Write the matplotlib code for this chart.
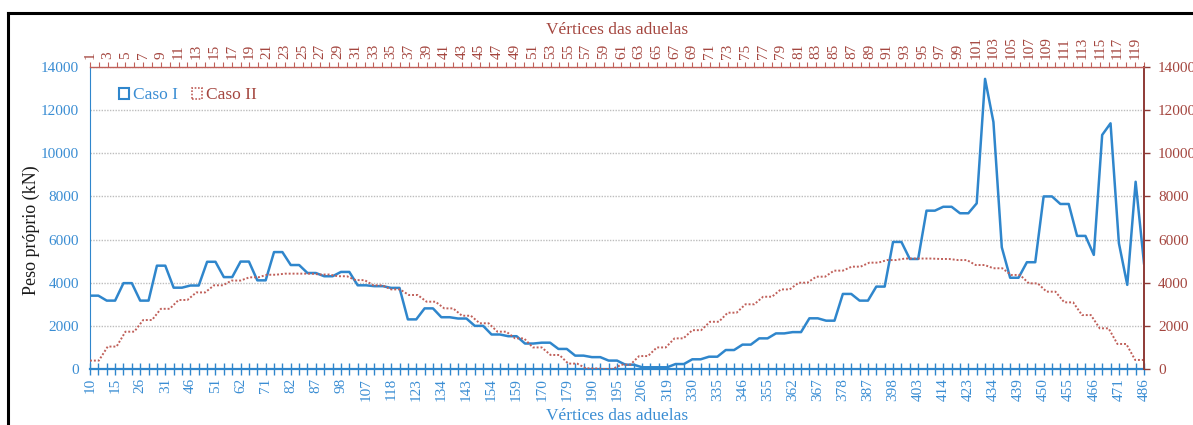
import matplotlib
matplotlib.use("Agg")
import matplotlib.pyplot as plt
import matplotlib.patches as mpatches
from matplotlib.lines import Line2D
from matplotlib.ticker import FixedLocator
import numpy as np

# Caso I: self weight per segment vertex (kN), 127 points on the lower axis
caso1_values = [
    3400, 3400, 3170, 3170, 3980, 3980, 3170, 3170, 4790, 4790,
    3770, 3770, 3870, 3870, 4970, 4970, 4260, 4260, 4980, 4980,
    4110, 4110, 5420, 5420, 4820, 4820, 4450, 4450, 4300, 4300,
    4500, 4500, 3880, 3880, 3840, 3840, 3760, 3760, 2300, 2300,
    2810, 2810, 2400, 2400, 2340, 2340, 2000, 2000, 1600, 1600,
    1520, 1520, 1180, 1180, 1220, 1220, 930, 930, 620, 620,
    550, 550, 390, 390, 200, 200, 80, 80, 80, 80,
    230, 230, 450, 450, 570, 570, 880, 880, 1130, 1130,
    1420, 1420, 1650, 1650, 1710, 1710, 2350, 2350, 2240, 2240,
    3480, 3480, 3170, 3170, 3820, 3820, 5890, 5890, 5100, 5100,
    7340, 7340, 7520, 7520, 7220, 7220, 7680, 13450, 11450, 5640,
    4230, 4230, 4950, 4950, 8000, 8000, 7650, 7650, 6170, 6170,
    5290, 10850, 11390, 5830, 3900, 8680, 4900,
]

# Labelled vertices of the lower axis (every third point)
caso1_ticklabels = [
    "10", "15", "26", "31", "46", "51", "62", "71", "82", "87",
    "98", "107", "118", "123", "134", "143", "154", "159", "170", "179",
    "190", "195", "206", "319", "330", "335", "346", "355", "362", "367",
    "378", "387", "398", "403", "414", "423", "434", "439", "450", "455",
    "466", "471", "486",
]

# Caso II: self weight per segment vertex (kN), vertices 1..120 on the upper axis
caso2_values = [
    390, 390, 1040, 1040, 1730, 1730, 2270, 2270, 2790, 2790,
    3200, 3200, 3550, 3550, 3880, 3880, 4100, 4100, 4250, 4250,
    4370, 4370, 4420, 4420, 4420, 4420, 4380, 4380, 4300, 4300,
    4120, 4120, 3880, 3880, 3690, 3690, 3430, 3430, 3120, 3120,
    2810, 2810, 2470, 2470, 2120, 2120, 1730, 1730, 1420, 1420,
    1000, 1000, 650, 650, 250, 250, 30, 30, 0, 0,
    200, 200, 600, 600, 1000, 1000, 1420, 1420, 1800, 1800,
    2190, 2190, 2610, 2610, 3000, 3000, 3350, 3350, 3690, 3690,
    4000, 4000, 4280, 4280, 4560, 4560, 4745, 4745, 4930, 4930,
    5050, 5050, 5120, 5120, 5120, 5120, 5100, 5100, 5050, 5050,
    4820, 4820, 4670, 4670, 4360, 4360, 3970, 3970, 3585, 3585,
    3090, 3090, 2500, 2500, 1885, 1885, 1160, 1160, 420, 420,
]
caso2_vertices = list(range(1, len(caso2_values) + 1))

y_ticks = [0, 2000, 4000, 6000, 8000, 10000, 12000, 14000]

BLUE = "#2F86CC"
BLUE_TXT = "#3A8DD3"
RED = "#C0605A"
RED_DARK = "#8E3A36"
RED_TXT = "#A4463F"

plt.rcParams["font.family"] = ["Liberation Serif", "DejaVu Serif"]

fig = plt.figure(figsize=(11.93, 4.25), dpi=100)
pos = [90 / 1193, 1 - 369 / 425, (1144 - 90) / 1193, (369 - 67) / 425]

ax = fig.add_axes(pos)
ax2 = fig.add_axes(pos, frameon=False)

# ---- Caso I (lower x axis, left y axis)
x1 = np.arange(len(caso1_values))
ax.plot(x1, caso1_values, color=BLUE, lw=1.8, zorder=3)
ax.set_xlim(0, len(caso1_values) - 1)
ax.set_ylim(0, 14000)
ax.set_yticks(y_ticks)
ax.yaxis.grid(True, color="#BDBDBD", linestyle=(0, (1, 1)), lw=1.0)
ax.set_axisbelow(True)

major_pos = x1[::3]
ax.xaxis.set_major_locator(FixedLocator(major_pos))
ax.set_xticklabels(caso1_ticklabels, rotation=90, color=BLUE_TXT, fontsize=11)
ax.xaxis.set_minor_locator(FixedLocator(x1))
ax.tick_params(axis="x", which="both", direction="inout", length=9, width=1.0,
               color=BLUE, pad=2)
ax.tick_params(axis="y", length=0, labelcolor=BLUE_TXT, labelsize=11, pad=8)
ax.set_xlabel("Vértices das aduelas", color=BLUE_TXT, fontsize=12.5, labelpad=5)
ax.set_ylabel("Peso próprio (kN)", color="#1A1A1A", fontsize=13)
ax.yaxis.set_label_coords(-0.047, 0.46)

ax.spines["bottom"].set_color(BLUE)
ax.spines["bottom"].set_linewidth(1.6)
ax.spines["left"].set_color(BLUE)
ax.spines["left"].set_linewidth(0.8)
ax.spines["left"].set_linestyle((0, (1, 1)))
ax.spines["top"].set_visible(False)
ax.spines["right"].set_visible(False)

# ---- Caso II (upper x axis, right y axis)
ax2.plot(caso2_vertices, caso2_values, color=RED, lw=1.4,
         linestyle=(0, (1, 1)), zorder=2)
ax2.set_xlim(caso2_vertices[0], caso2_vertices[-1])
ax2.set_ylim(0, 14000)
ax2.set_yticks(y_ticks)
ax2.xaxis.tick_top()
ax2.xaxis.set_label_position("top")
ax2.yaxis.tick_right()
ax2.xaxis.set_major_locator(FixedLocator(caso2_vertices[::2]))
ax2.set_xticklabels([str(v) for v in caso2_vertices[::2]], rotation=90,
                    color=RED_TXT, fontsize=11)
ax2.xaxis.set_minor_locator(FixedLocator(caso2_vertices))
ax2.tick_params(axis="x", which="both", direction="out", length=3.5, width=0.8,
                color=RED, pad=2)
ax2.tick_params(axis="y", direction="out", length=4, width=1.0, color=RED_DARK,
                labelcolor=RED_TXT, labelsize=11, pad=6)
ax2.set_xlabel("Vértices das aduelas", color=RED_TXT, fontsize=12.5, labelpad=2)
ax2.patch.set_visible(False)
ax2.set_frame_on(True)
for s in ("bottom", "left"):
    ax2.spines[s].set_visible(False)
ax2.spines["top"].set_color(RED)
ax2.spines["top"].set_linewidth(1.0)
ax2.spines["top"].set_linestyle((0, (1, 1)))
ax2.spines["right"].set_color(RED_DARK)
ax2.spines["right"].set_linewidth(1.4)

# ---- legend
handles = [
    mpatches.Rectangle((0, 0), 1, 1, facecolor="none", edgecolor=BLUE, lw=1.5),
    mpatches.Rectangle((0, 0), 1, 1, facecolor="none", edgecolor=RED, lw=1.2,
                       linestyle=(0, (1, 1))),
]
leg = ax2.legend(handles, ["Caso I", "Caso II"], ncol=2, frameon=False,
                 loc="upper left", bbox_to_anchor=(0.013, 0.985),
                 fontsize=12.5, handlelength=0.55, handleheight=0.6,
                 handletextpad=0.25, columnspacing=0.8)
leg.get_texts()[0].set_color(BLUE_TXT)
leg.get_texts()[1].set_color(RED_TXT)

# ---- outer frame
fig.add_artist(Line2D([8 / 1193, 1.0], [1 - 13 / 425] * 2, color="black",
                      lw=2.2, transform=fig.transFigure))
fig.add_artist(Line2D([8 / 1193] * 2, [0.0, 1 - 13 / 425], color="black",
                      lw=2.2, transform=fig.transFigure))

fig.savefig("out.png", dpi=100)
